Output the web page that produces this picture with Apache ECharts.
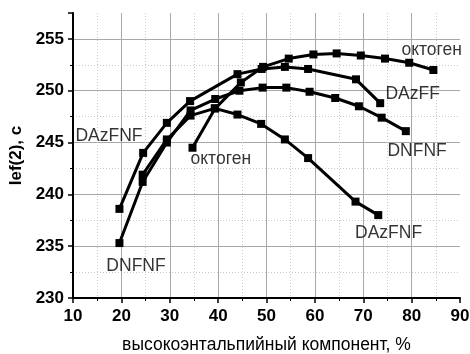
<!DOCTYPE html>
<html>
<head>
<meta charset="utf-8">
<script src="https://cdn.jsdelivr.net/npm/echarts@6/dist/echarts.min.js"></script>
<style>html,body{margin:0;padding:0;background:#fff}#c{width:470px;height:354px}</style>
</head>
<body>
<div id="c"></div>
<script>
// Data: [x (%), Ief(2) (s)]
var octogen = [[34.7,244.5],[39.4,248.3],[44.7,250.8],[49.3,252.3],[54.6,253.1],[59.7,253.5],[64.5,253.6],[69.5,253.4],[74.5,253.1],[79.5,252.7],[84.5,252.0]];
var dazff = [[19.6,238.6],[24.5,244.0],[29.4,246.9],[34.2,249.0],[44.0,251.6],[49.0,252.1],[53.8,252.3],[58.6,252.1],[68.5,251.1],[73.5,248.8]];
var dnfnf = [[19.6,235.3],[24.4,241.2],[29.4,245.0],[34.3,248.1],[39.4,249.2],[44.4,250.0],[49.2,250.3],[54.1,250.3],[58.9,249.9],[64.2,249.3],[69.1,248.5],[73.8,247.4],[78.8,246.1]];
var dazfnf = [[24.4,241.9],[29.4,245.3],[34.3,247.6],[39.3,248.3],[44.0,247.7],[48.9,246.8],[53.8,245.3],[58.6,243.5],[68.4,239.3],[73.1,238.0]];
// Curve annotations: [x, y, text]
var annotations = [[78.0,253.9,'октоген'],[74.7,249.6,'DAzFF'],[75.1,244.1,'DNFNF'],[68.4,236.25,'DAzFNF'],[17.0,233.0,'DNFNF'],[34.4,243.3,'октоген'],[10.6,245.6,'DAzFNF']];
var xTitle = 'высокоэнтальпийный компонент, %';
var yTitle = 'Ief(2), с';

var FONT = "'Liberation Sans', Arial, sans-serif";
var chart = echarts.init(document.getElementById('c'), null, {renderer:'canvas'});

function lineSeries(d){
  return {type:'line', data:d, symbol:'rect', symbolSize:8, showSymbol:true,
    lineStyle:{color:'#000', width:3}, itemStyle:{color:'#000'}, z:3, animation:false};
}
var axisCommon = {
  axisLine:{show:true, onZero:false, lineStyle:{color:'#000', width:2}},
  axisTick:{show:true, inside:false, length:5, lineStyle:{color:'#000', width:1.5}},
  minorTick:{show:true, splitNumber:2, length:3, lineStyle:{color:'#000', width:1}},
  splitLine:{show:true, showMaxLine:false, showMinLine:false, lineStyle:{color:'#a8a8a8', width:1}},
  minorSplitLine:{show:true, lineStyle:{color:'#c8c8c8', width:1, type:[1,2]}}
};
chart.setOption({
  animation:false,
  grid:{left:73, right:10, top:13, bottom:56, containLabel:false, outerBoundsMode:'none'},
  xAxis: Object.assign({type:'value', min:10, max:90, interval:10,
    name:xTitle, nameLocation:'middle', nameGap:38,
    nameTextStyle:{color:'#000', fontSize:17.5, fontFamily:FONT}}, axisCommon,
    {axisLabel:{color:'#000', fontSize:17, fontWeight:'bold', fontFamily:FONT, margin:10}}),
  yAxis: Object.assign({type:'value', min:230, max:257.5, interval:5,
    name:yTitle, nameLocation:'middle', nameGap:44, nameRotate:90,
    nameTextStyle:{color:'#000', fontSize:17, fontWeight:'bold', fontFamily:FONT}}, axisCommon,
    {axisLabel:{color:'#000', fontSize:17, fontWeight:'bold', fontFamily:FONT, margin:9,
      formatter:function(v){return v % 5 === 0 ? String(v) : '';}}}),
  series:[
    lineSeries(octogen), lineSeries(dazff), lineSeries(dnfnf), lineSeries(dazfnf),
    {type:'scatter', data:annotations.map(function(a){return {value:[a[0],a[1]], name:a[2]};}),
     symbolSize:1, itemStyle:{color:'rgba(0,0,0,0)'}, z:5,
     label:{show:true, position:[0,0], align:'left', verticalAlign:'middle',
       formatter:function(p){return p.name;}, color:'#000', fontSize:17.5, fontFamily:FONT}}
  ]
});
</script>
</body>
</html>
